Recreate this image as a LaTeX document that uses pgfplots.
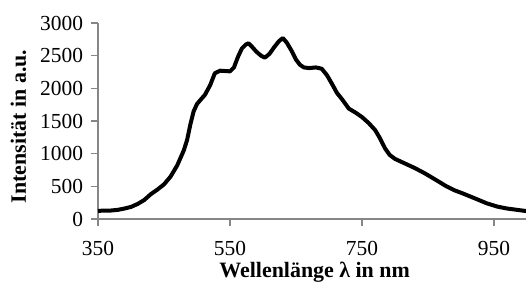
\documentclass[border=0pt]{standalone}
\usepackage{pgfplots}
\pgfplotsset{compat=1.18}
\usepackage{fontspec}
\setmainfont{Liberation Serif}
\definecolor{axgray}{RGB}{134,134,134}
\begin{document}
\begin{tikzpicture}
\begin{axis}[
  scale only axis, width=429bp, height=196bp,
  xmin=350, xmax=1000, ymin=0, ymax=3000,
  axis lines*=left,
  xtick={350,550,750,950}, ytick={0,500,1000,1500,2000,2500,3000},
  tick align=outside, major tick length=7bp,
  axis line style={axgray, line width=1.2bp},
  tick style={axgray, line width=1.2bp},
  /pgf/number format/assume math mode=true,
  /pgf/number format/1000 sep={},
  tick label style={font=\fontsize{21.5}{25}\selectfont, text=black},
  xticklabel style={yshift=-12bp},
  yticklabel style={xshift=-4.5bp},
  xlabel={\textbf{Wellenlänge λ in nm}},
  ylabel={\textbf{Intensität in a.u.}},
  label style={font=\fontsize{22}{26}\selectfont},
  xlabel style={at={(axis description cs:0.505,-0.301)}, anchor=base},
  ylabel style={at={(axis description cs:-0.168,0.472)}, anchor=base},
  clip=false,
]
\coordinate (O) at (rel axis cs:0,0);
\addplot[black, line width=4bp, line join=round] coordinates {
(350,125) (360,128) (370,130) (380,140) (390,160) (400,185) (410,230) (420,290)
(430,380) (440,450) (450,530) (460,650) (470,820) (480,1050) (485,1210) (490,1450)
(495,1650) (500,1760) (505,1820) (512,1900) (520,2050) (527,2230) (535,2270) (550,2260)
(556,2320) (562,2480) (568,2610) (574,2670) (578,2690) (583,2640) (590,2560) (597,2500)
(603,2470) (610,2530) (617,2630) (624,2720) (630,2770) (636,2700) (643,2580) (650,2440)
(656,2360) (662,2320) (670,2310) (680,2320) (689,2300) (697,2200) (705,2060) (712,1930)
(720,1830) (730,1690) (740,1630) (750,1560) (760,1470) (770,1360) (777,1240) (785,1080)
(792,980) (800,920) (815,850) (830,780) (845,700) (860,610) (878,500) (890,440)
(903,390) (920,320) (939,240) (955,190) (970,160) (985,140) (1000,120)
};
\end{axis}
\pgfresetboundingbox
\path ([shift={(-98bp,-63bp)}]O) rectangle ([shift={(428bp,219bp)}]O);
\end{tikzpicture}
\end{document}
